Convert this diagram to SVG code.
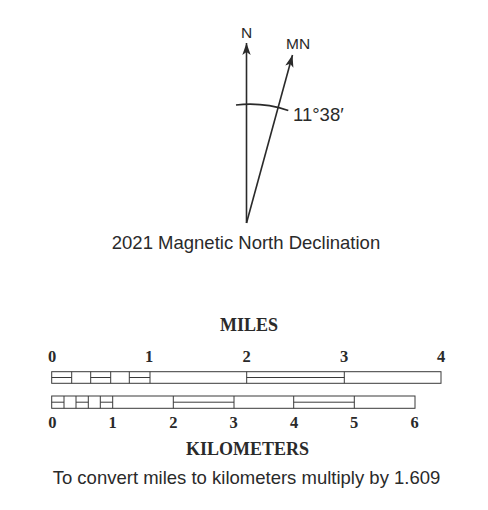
<svg xmlns="http://www.w3.org/2000/svg" width="488" height="510" viewBox="0 0 488 510">
<style>
.sans{font-family:"Liberation Sans",Arial,sans-serif;fill:#2a2a2a}
.serif{font-family:"Liberation Serif","Times New Roman",serif;font-weight:bold;fill:#2a2a2a}
.ln{stroke:#2a2a2a;stroke-width:1.6;fill:none}
.bar{stroke:#3a3a3a;stroke-width:1;fill:#fff}
.tk{stroke:#3a3a3a;stroke-width:1;fill:none}
.num{font-size:16.5px;text-anchor:middle}
</style>
<defs>
<marker id="ah" viewBox="-13 -5 14 10" refX="0" refY="0" markerWidth="14" markerHeight="10" markerUnits="userSpaceOnUse" orient="auto">
<path d="M0,0 L-12,-4.2 L-9,0 L-12,4.2 Z" fill="#2a2a2a"/>
</marker>
</defs>
<g id="connectors">
<line class="ln" x1="246.5" y1="223" x2="246.5" y2="43" marker-end="url(#ah)"/>
<line class="ln" x1="246.5" y1="223" x2="292.5" y2="55" marker-end="url(#ah)"/>
<path class="ln" d="M236,105 A119,119 0 0 1 288.3,110.5" stroke-width="1.2"/>
</g>
<g id="compass-labels">
<text class="sans" x="246.5" y="38" font-size="15.5" text-anchor="middle">N</text>
<text class="sans" x="286" y="49" font-size="15.5">MN</text>
<text class="sans" x="293" y="121" font-size="18.5">11°38′</text>
<text class="sans" x="246" y="249" font-size="18.5" text-anchor="middle">2021 Magnetic North Declination</text>
</g>
<g id="miles-scale">
<text class="serif" x="249" y="331" font-size="18" text-anchor="middle">MILES</text>
<text class="serif num" x="52" y="361.5">0</text>
<text class="serif num" x="149" y="361.5">1</text>
<text class="serif num" x="246.7" y="361.5">2</text>
<text class="serif num" x="344" y="361.5">3</text>
<text class="serif num" x="441" y="361.5">4</text>
<rect class="bar" x="51.7" y="371.7" width="389.3" height="11.6"/>
<path class="tk" d="M71.7,371.7V383.3M90.7,371.7V383.3M110.7,371.7V383.3M129.3,371.7V383.3M150,371.7V383.3M246.7,371.7V383.3M344.3,371.7V383.3"/>
<path class="tk" d="M51.7,377.5H71.7M90.7,377.5H110.7M129.3,377.5H150M246.7,377.5H344.3"/>
</g>
<g id="km-scale">
<rect class="bar" x="51.7" y="396" width="363.3" height="12.3"/>
<path class="tk" d="M64,396V408.3M76,396V408.3M88.3,396V408.3M100.3,396V408.3M112.7,396V408.3M173.3,396V408.3M234,396V408.3M293.7,396V408.3M354.3,396V408.3"/>
<path class="tk" d="M51.7,402.2H64M76,402.2H88.3M100.3,402.2H112.7M173.3,402.2H234M293.7,402.2H354.3"/>
<text class="serif num" x="52.3" y="428.3">0</text>
<text class="serif num" x="112.7" y="428.3">1</text>
<text class="serif num" x="173.3" y="428.3">2</text>
<text class="serif num" x="233.5" y="428.3">3</text>
<text class="serif num" x="294" y="428.3">4</text>
<text class="serif num" x="354" y="428.3">5</text>
<text class="serif num" x="414.5" y="428.3">6</text>
<text class="serif" x="247.5" y="455" font-size="18" text-anchor="middle">KILOMETERS</text>
<text class="sans" x="246.5" y="483.5" font-size="18.5" text-anchor="middle">To convert miles to kilometers multiply by 1.609</text>
</g>
</svg>
